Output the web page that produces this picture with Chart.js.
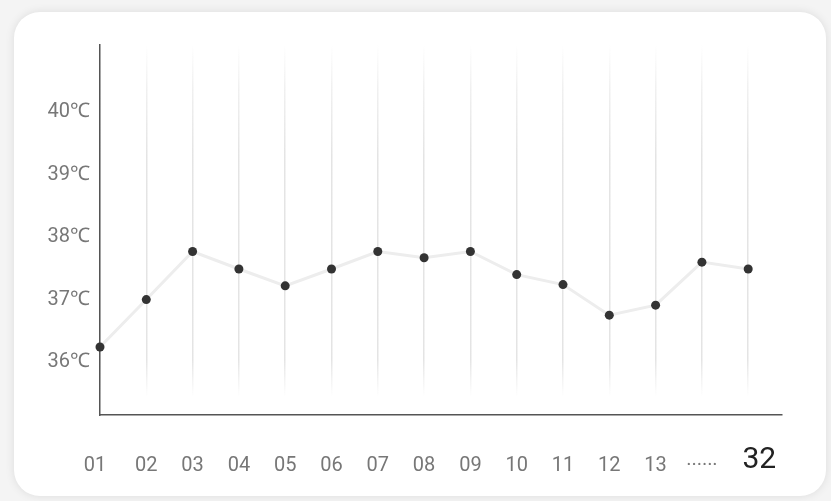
<!DOCTYPE html>
<html>
<head>
<meta charset="utf-8">
<script src="https://cdn.jsdelivr.net/npm/chart.js@4/dist/chart.umd.min.js"></script>
<style>
html,body{margin:0;padding:0;background:#f4f4f4;width:831px;height:501px;overflow:hidden;}
#card{position:absolute;left:14px;top:12px;width:812px;height:484px;background:#fff;border-radius:26px;box-shadow:0 0 10px rgba(0,0,0,0.10);}
#wrap{position:absolute;left:0;top:0;width:831px;height:501px;}
</style>
</head>
<body>
<div id="card"></div>
<div id="wrap"><canvas id="c"></canvas></div>
<script>
const xLabels = ['01  ','02','03','04','05','06','07','08','09','10','11','12','13','······','   32'];
const temps = [36.24, 37.0, 37.77, 37.49, 37.22, 37.49, 37.77, 37.67, 37.77, 37.4, 37.24, 36.75, 36.91, 37.6, 37.49];
const yTicks = [36, 37, 38, 39, 40];
const unit = '℃';

const points = temps.map((v, i) => ({x: i, y: v}));
const FAM = 'Roboto, "Noto Sans", "DejaVu Sans", sans-serif';

function gridGradient(ctx) {
  const chart = ctx.chart;
  const area = chart.chartArea;
  if (!area) return '#ececec';
  const g = chart.ctx.createLinearGradient(0, area.top, 0, area.bottom);
  g.addColorStop(0, 'rgba(230,230,230,0)');
  g.addColorStop(0.12, 'rgba(230,230,230,0.6)');
  g.addColorStop(0.3, 'rgba(228,228,228,1)');
  g.addColorStop(0.85, 'rgba(228,228,228,1)');
  g.addColorStop(0.95, 'rgba(230,230,230,0)');
  g.addColorStop(1, 'rgba(230,230,230,0)');
  return g;
}

new Chart(document.getElementById('c'), {
  type: 'line',
  data: {
    datasets: [{
      data: points,
      borderColor: '#ededed',
      borderWidth: 3,
      pointBackgroundColor: '#333',
      pointBorderColor: '#333',
      pointRadius: 4.5,
      pointBorderWidth: 0,
      tension: 0,
      clip: false
    }]
  },
  options: {
    responsive: true,
    maintainAspectRatio: false,
    animation: false,
    layout: {padding: {left: 0, right: 49, top: 45, bottom: 0}},
    plugins: {legend: {display: false}, tooltip: {enabled: false}},
    scales: {
      x: {
        type: 'linear',
        min: 0,
        max: 14.73,
        afterBuildTicks: (s) => { s.ticks = xLabels.map((_, i) => ({value: i})); },
        afterFit: (s) => { s.height = 86; },
        ticks: {
          autoSkip: false,
          maxRotation: 0,
          padding: 45,
          crossAlign: 'center',
          callback: (v) => xLabels[v] !== undefined ? xLabels[v] : '',
          color: (c) => c.index === 14 ? '#222' : '#777',
          font: (c) => c.index === 14 ? {size: 30, family: FAM} : {size: 20, family: FAM}
        },
        grid: {
          drawTicks: false,
          color: gridGradient,
          lineWidth: 1.5
        },
        border: {display: true, color: '#555', width: 1.5}
      },
      y: {
        min: 35.15,
        max: 41.08,
        afterBuildTicks: (s) => { s.ticks = yTicks.map(v => ({value: v})); },
        afterFit: (s) => { s.width = 100; },
        ticks: {
          padding: 10,
          callback: (v) => v + unit,
          color: '#777',
          font: {size: 20, family: FAM}
        },
        grid: {display: false, drawTicks: false},
        border: {display: true, color: '#555', width: 1.5}
      }
    }
  }
});
</script>
</body>
</html>
